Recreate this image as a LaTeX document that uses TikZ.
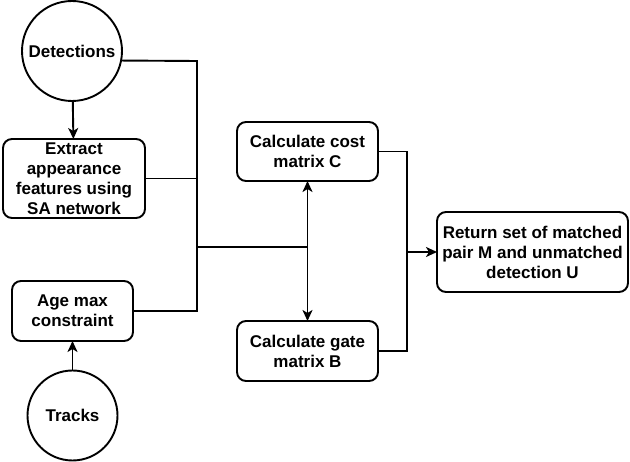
\documentclass[tikz,border=0pt]{standalone}
\usepackage{fontspec}
\setmainfont{Liberation Sans}
\usetikzlibrary{arrows.meta, calc, positioning}

\begin{document}
\begin{tikzpicture}[% styles used in image code
        x = 1pt, y = -1pt,
        > = {Stealth[length=11pt, width=10pt, inset=3pt]},
 blk/.style = {draw, line width=1.9pt, rounded corners=9pt,
               align=center, inner sep=0pt, outer sep=0pt,
               font=\bfseries\fontsize{17}{20}\selectfont},
 src/.style = {draw, circle, line width=1.9pt,
               inner sep=0pt, outer sep=0pt,
               font=\bfseries\fontsize{17}{20}\selectfont},
 con/.style = {line width=1.9pt}
                        ]
	\useasboundingbox (0,0) rectangle (630,462);

	% inputs
	\node[src, minimum size=100pt] (det) at (72,51) {Detections};
	\node[blk, minimum width=142pt, minimum height=79pt] (ext) at (74,178.5)
	     {Extract\\appearance\\features using\\SA network};
	\node[blk, minimum width=121pt, minimum height=60pt] (age) at (72.5,311)
	     {Age max\\constraint};
	\node[src, minimum size=90pt] (trk) at (72.5,415.5) {Tracks};

	% matrices and result
	\node[blk, minimum width=141pt, minimum height=59pt] (cost) at (307.5,151.5)
	     {Calculate cost\\matrix C};
	\node[blk, minimum width=141pt, minimum height=60pt] (gate) at (307.5,351)
	     {Calculate gate\\matrix B};
	\node[blk, minimum width=191pt, minimum height=80pt] (ret) at (532.5,252)
	     {Return set of matched\\pair M and unmatched\\detection U};

	% junction points
	\coordinate (jtop) at (197,61);
	\coordinate (jmid) at (197,247);
	\coordinate (jc)   at (cost.south |- jmid);
	\coordinate (rtop) at (407,151.5);

	% connectors
	\draw[con,->] (det) -- (ext);
	\draw[con,->] (trk) -- (age);
	\draw[con] (det.-11.5) -- (jtop) -- (jtop |- age.east) -- (age.east);
	\draw[con] (ext.east) -- (ext.east -| jtop);
	\draw[con] (jmid) -- (jc);
	\draw[con,->] (jc) -- (cost.south);
	\draw[con,->] (jc) -- (gate.north);
	\draw[con] (cost.east) -- (rtop) -- (rtop |- gate.east) -- (gate.east);
	\draw[con,->] (ret.west -| rtop) -- (ret.west);
\end{tikzpicture}
\end{document}
